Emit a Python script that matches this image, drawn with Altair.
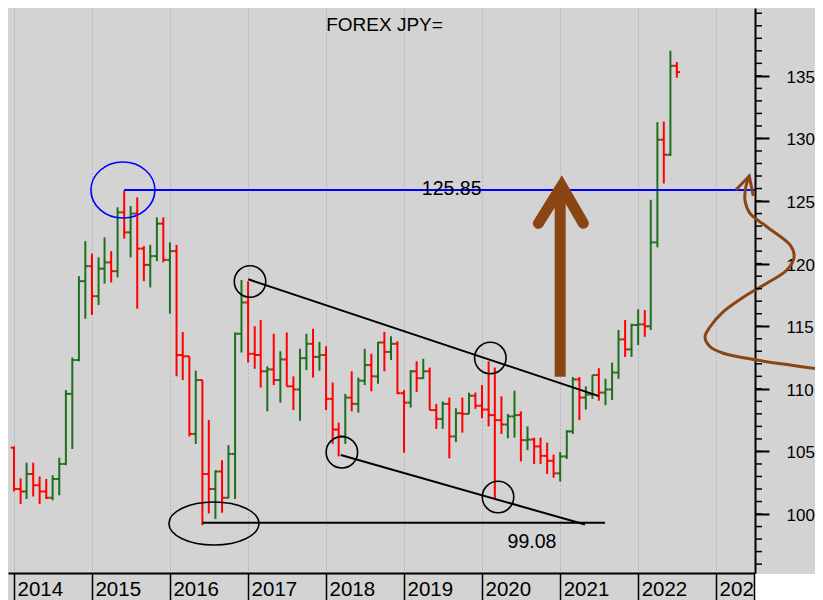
import altair as alt
import pandas as pd

# ---------------- data (monthly OHLC, Jan 2014 .. Jul 2022) ----------------
first_month = "2014-01-01"
n_months = 103

opens = [
    105.3, 102.0, 101.8, 103.2, 102.3, 101.8, 101.3, 102.8, 104.0, 109.6, 112.3, 118.6,
    119.8, 117.4, 119.6, 120.1, 119.4, 124.1, 122.5, 124.0, 121.2, 119.9, 120.6, 123.2,
    120.3, 121.0, 112.7, 112.6, 106.4, 110.7, 103.2, 102.0, 103.4, 101.3, 104.8, 114.4,
    116.9, 112.8, 112.7, 111.4, 111.55, 110.7, 112.35, 110.2, 109.95, 112.45, 113.6, 112.55,
    112.7, 109.2, 106.75, 106.2, 109.3, 108.8, 110.65, 111.9, 111.0, 113.7, 112.95, 113.6,
    109.65, 108.9, 111.4, 110.85, 111.4, 108.3, 107.6, 108.8, 106.2, 108.05, 108.0, 109.45,
    108.65, 108.35, 107.9, 107.5, 107.15, 107.8, 107.9, 105.9, 105.95, 105.4, 104.65, 104.25,
    103.25, 104.6, 106.6, 110.75, 109.3, 109.55, 111.1, 109.7, 109.95, 111.3, 113.95, 113.15,
    115.1, 115.15, 115.0, 121.7, 129.9, 128.7, 135.8,
]
highs = [
    105.4, 102.85, 104.1, 104.1, 103.0, 102.8, 103.1, 104.5, 109.9, 112.5, 119.0, 121.8,
    120.8, 120.5, 122.1, 121.0, 124.5, 125.85, 124.6, 125.3, 121.4, 121.5, 123.7, 123.7,
    121.7, 121.5, 114.55, 112.6, 111.45, 110.7, 107.5, 103.5, 104.3, 105.5, 114.5, 118.7,
    118.6, 115.0, 115.5, 111.8, 114.4, 113.0, 114.5, 111.0, 113.2, 114.4, 114.8, 113.75,
    113.4, 110.5, 107.3, 109.6, 111.4, 110.9, 113.2, 112.8, 113.75, 114.55, 114.2, 113.8,
    109.9, 111.5, 112.2, 112.4, 111.7, 108.8, 109.0, 109.3, 108.45, 109.3, 109.7, 109.7,
    110.3, 112.2, 111.7, 109.4, 108.0, 109.85, 108.2, 107.0, 106.1, 106.1, 105.7, 104.75,
    104.95, 106.7, 110.95, 110.95, 110.2, 111.1, 111.65, 110.8, 112.1, 114.7, 115.5, 115.2,
    116.35, 116.3, 125.1, 131.3, 131.35, 137.0, 136.1,
]
lows = [
    101.8, 100.8, 101.2, 101.4, 100.8, 101.2, 101.1, 101.5, 103.9, 105.2, 112.2, 115.6,
    115.9, 116.7, 118.4, 118.5, 118.9, 122.0, 120.5, 116.4, 118.6, 118.1, 120.2, 120.1,
    116.0, 111.0, 110.7, 106.2, 105.6, 99.1, 100.05, 99.6, 100.1, 101.25, 101.2, 112.9,
    112.1, 111.6, 110.1, 108.2, 110.3, 108.9, 110.2, 108.3, 107.45, 111.5, 110.9, 111.45,
    108.3, 105.6, 104.6, 105.6, 108.2, 108.1, 110.3, 109.8, 110.4, 111.4, 112.3, 109.6,
    104.9, 108.5, 109.75, 110.8, 108.3, 106.8, 106.8, 104.45, 105.75, 106.5, 108.0, 108.4,
    107.65, 107.0, 101.2, 106.4, 106.05, 106.1, 104.2, 105.1, 104.0, 104.0, 103.2, 102.9,
    102.6, 104.4, 106.4, 107.5, 108.35, 109.2, 109.05, 108.7, 109.1, 110.8, 112.55, 112.55,
    113.5, 114.15, 114.7, 121.3, 126.4, 128.6, 134.85,
]
closes = [
    102.0, 101.8, 103.2, 102.3, 101.8, 101.3, 102.8, 104.0, 109.6, 112.3, 118.6, 119.8,
    117.4, 119.6, 120.1, 119.4, 124.1, 122.5, 124.0, 121.2, 119.9, 120.6, 123.2, 120.3,
    121.0, 112.7, 112.6, 106.4, 110.7, 103.2, 102.0, 103.4, 101.3, 104.8, 114.4, 116.9,
    112.8, 112.7, 111.4, 111.55, 110.7, 112.35, 110.2, 109.95, 112.45, 113.6, 112.55, 112.7,
    109.2, 106.75, 106.2, 109.3, 108.8, 110.65, 111.9, 111.0, 113.7, 112.95, 113.6, 109.65,
    108.9, 111.4, 110.85, 111.4, 108.3, 107.6, 108.8, 106.2, 108.05, 108.0, 109.45, 108.65,
    108.35, 107.9, 107.5, 107.15, 107.8, 107.9, 105.9, 105.95, 105.4, 104.65, 104.25, 103.25,
    104.6, 106.6, 110.75, 109.3, 109.55, 111.1, 109.7, 109.95, 111.3, 113.95, 113.15, 115.1,
    115.15, 115.0, 121.7, 129.9, 128.7, 135.8, 135.3,
]

year_ticks = list(range(2014, 2024))
price_ticks = list(range(100, 140, 5))
minor_ticks = list(range(96, 141))

# annotations, in data units (dates / prices)
resistance_level = 125.88
resistance_dates = ["2015-06-01", "2023-07-02"]
resistance_label = "125.85"
resistance_label_at = ("2019-08-12", 125.48)

support_label = "99.08"
support_label_at = ("2020-08-22", 97.28)

trend_segment = ["upper", "upper", "lower", "lower", "floor", "floor"]
trend_dates = ["2017-01-02", "2021-07-02", "2018-03-11", "2021-04-27", "2016-06-02", "2021-07-30"]
trend_values = [118.75, 109.42, 104.71, 99.16, 99.3, 99.3]

circle_dates = ["2017-01-10", "2020-02-09", "2018-03-16", "2020-03-16"]
circle_values = [118.57, 112.46, 104.93, 101.36]

blue_ellipse_at = ("2015-05-26", 125.88)
black_ellipse_at = ("2016-07-25", 99.24)

shaft_date = "2021-01-01"
shaft_values = [110.97, 126.0]
head_dates = ["2020-09-21", "2021-01-08", "2021-04-19"]
head_values = [123.22, 126.2, 123.22]

curve_dates = ["2024-05-16", "2023-12-13", "2023-07-10", "2023-02-04", "2022-12-04", "2022-11-10",
               "2022-12-04", "2023-02-04", "2023-05-24", "2023-08-26", "2023-11-28", "2024-01-01",
               "2023-12-13", "2023-08-26", "2023-06-08", "2023-05-16", "2023-05-20", "2023-06-05"]
curve_values = [111.54, 111.90, 112.30, 112.84, 113.36, 114.16,
                114.96, 116.16, 117.49, 118.43, 119.49, 120.55,
                121.49, 122.95, 124.04, 125.08, 126.12, 127.0]
curve_head_dates = ["2023-04-03", "2023-06-05", "2023-06-24"]
curve_head_values = [125.88, 127.0, 125.4]

title_text = "FOREX JPY="

# ---------------- styling ----------------
GREEN = "#1f6f1f"
RED = "#ff0000"
BROWN = "#8b4513"
BG = "#d3d3d3"
FONT = "Liberation Sans"

dates = pd.date_range(first_month, periods=n_months, freq="MS")
df = pd.DataFrame({
    "date": dates.strftime("%Y-%m-%d"),
    "open": opens, "high": highs, "low": lows, "close": closes,
    "dir": ["up" if c >= o else "down" for o, c in zip(opens, closes)],
    "open_from": (dates - pd.Timedelta(days=15)).strftime("%Y-%m-%d"),
    "close_to": (dates + pd.Timedelta(days=15)).strftime("%Y-%m-%d"),
})

xscale = alt.Scale(type="utc", domain=[alt.DateTime(year=2013, month=12, date=4, utc=True),
                                       alt.DateTime(year=2023, month=7, date=2, utc=True)])
yscale = alt.Scale(domain=[95.29, 140.42], nice=False, zero=False)

xaxis = alt.Axis(
    values=[alt.DateTime(year=y, month=1, date=1, utc=True) for y in year_ticks],
    format="%Y", grid=True, gridColor="#b2b2b2", gridDash=[2, 2], gridWidth=1,
    domainColor="black", domainWidth=2, tickColor="black", tickWidth=1.5, tickSize=27,
    labelAlign="left", labelBaseline="alphabetic", labelPadding=-5, labelOffset=3,
    labelFont=FONT, labelFontSize=20.5, labelColor="black",
    labelOverlap=False, labelFlush=False, title=None,
)
yaxis = alt.Axis(
    orient="right", values=price_ticks, grid=False,
    domainColor="black", domainWidth=2, tickColor="black", tickWidth=2, tickSize=14,
    labelPadding=17, labelFont=FONT, labelFontSize=17, labelColor="black",
    labelAlign="left", labelOffset=1.5, title=None,
)


def X(field):
    return alt.X(field, type="temporal", scale=xscale, axis=xaxis, title=None)


def Y(field):
    return alt.Y(field, type="quantitative", scale=yscale, axis=yaxis, title=None)


color = alt.Color("dir:N", scale=alt.Scale(domain=["up", "down"], range=[GREEN, RED]), legend=None)

base = alt.Chart(df)
wicks = base.mark_rule(strokeWidth=2).encode(x=X("date"), y=Y("low"), y2="high", color=color)
open_ticks = base.mark_rule(strokeWidth=2).encode(x=X("open_from"), x2="date", y=Y("open"), color=color)
close_ticks = base.mark_rule(strokeWidth=2).encode(x=X("date"), x2="close_to", y=Y("close"), color=color)

res_df = pd.DataFrame({"a": [resistance_dates[0]], "b": [resistance_dates[1]], "v": [resistance_level]})
res_line = alt.Chart(res_df).mark_rule(color="#0000ff", strokeWidth=2).encode(
    x=X("a"), x2="b", y=Y("v"))

trend_df = pd.DataFrame({"seg": trend_segment, "d": trend_dates, "v": trend_values})
trend = alt.Chart(trend_df).mark_line(color="black", strokeWidth=2).encode(
    x=X("d"), y=Y("v"), detail="seg:N")

circ_df = pd.DataFrame({"d": circle_dates, "v": circle_values})
circles = alt.Chart(circ_df).mark_point(shape="circle", filled=False, size=990, color="black",
                                        strokeWidth=1.6, opacity=1).encode(x=X("d"), y=Y("v"))

be_df = pd.DataFrame({"d": [blue_ellipse_at[0]], "v": [blue_ellipse_at[1]]})
blue_ellipse = alt.Chart(be_df).mark_point(
    shape="M -1 0 A 1 0.875 0 1 0 1 0 A 1 0.875 0 1 0 -1 0 Z", filled=False, size=4096,
    color="#0000ff", strokeWidth=1.6, opacity=1).encode(x=X("d"), y=Y("v"))

ke_df = pd.DataFrame({"d": [black_ellipse_at[0]], "v": [black_ellipse_at[1]]})
black_ellipse = alt.Chart(ke_df).mark_point(
    shape="M -1 0 A 1 0.478 0 1 0 1 0 A 1 0.478 0 1 0 -1 0 Z", filled=False, size=8100,
    color="black", strokeWidth=1.6, opacity=1).encode(x=X("d"), y=Y("v"))

lbl_df = pd.DataFrame({"d": [resistance_label_at[0], support_label_at[0]],
                       "v": [resistance_label_at[1], support_label_at[1]],
                       "t": [resistance_label, support_label]})
labels = alt.Chart(lbl_df).mark_text(font=FONT, fontSize=19.5, color="black", align="center",
                                     baseline="alphabetic").encode(x=X("d"), y=Y("v"), text="t:N")

shaft_df = pd.DataFrame({"d": [shaft_date], "v0": [shaft_values[0]], "v1": [shaft_values[1]]})
shaft = alt.Chart(shaft_df).mark_rule(color=BROWN, strokeWidth=11, strokeCap="butt").encode(
    x=X("d"), y=Y("v0"), y2="v1")
head_df = pd.DataFrame({"i": [0, 1, 2], "d": head_dates, "v": head_values})
head = alt.Chart(head_df).mark_line(color=BROWN, strokeWidth=11, strokeCap="round",
                                    strokeJoin="miter").encode(x=X("d"), y=Y("v"), order="i:Q")

curve_df = pd.DataFrame({"i": list(range(len(curve_dates))), "d": curve_dates, "v": curve_values})
curve = alt.Chart(curve_df).mark_line(color=BROWN, strokeWidth=3, interpolate="catmull-rom",
                                      clip=False).encode(x=X("d"), y=Y("v"), order="i:Q")
ch_df = pd.DataFrame({"i": [0, 1, 2], "d": curve_head_dates, "v": curve_head_values})
curve_head = alt.Chart(ch_df).mark_line(color=BROWN, strokeWidth=3, strokeJoin="miter",
                                        clip=False).encode(x=X("d"), y=Y("v"), order="i:Q")

minor_df = pd.DataFrame({"v": minor_ticks})
minor = alt.Chart(minor_df).mark_rule(color="black", strokeWidth=1.5).encode(
    x=alt.value(747), x2=alt.value(754), y=Y("v"))

corner_df = pd.DataFrame({"k": [0]})
corner = alt.Chart(corner_df).mark_rect(color="white", clip=False).encode(
    x=alt.value(747), x2=alt.value(820), y=alt.value(566), y2=alt.value(600))
corner_edge = alt.Chart(corner_df).mark_rule(color="black", strokeWidth=1.5).encode(
    x=alt.value(746.5), y=alt.value(565), y2=alt.value(600))

title_df = pd.DataFrame({"t": [title_text]})
title = alt.Chart(title_df).mark_text(font=FONT, fontSize=19, color="black", align="center",
                                      baseline="alphabetic").encode(
    text="t:N", x=alt.value(376.5), y=alt.value(23))

chart = alt.layer(
    wicks, open_ticks, close_ticks,
    res_line, trend, circles, blue_ellipse, black_ellipse, labels,
    shaft, head, curve, curve_head, minor, corner, corner_edge, title,
).properties(
    width=747, height=565,
    autosize=alt.AutoSizeParams(type="none"),
    padding={"left": 0, "top": 0, "right": 60, "bottom": 27},
    background=BG,
).configure_view(stroke=None)

chart.save("out.html", embed_options={"renderer": "svg", "actions": False})
